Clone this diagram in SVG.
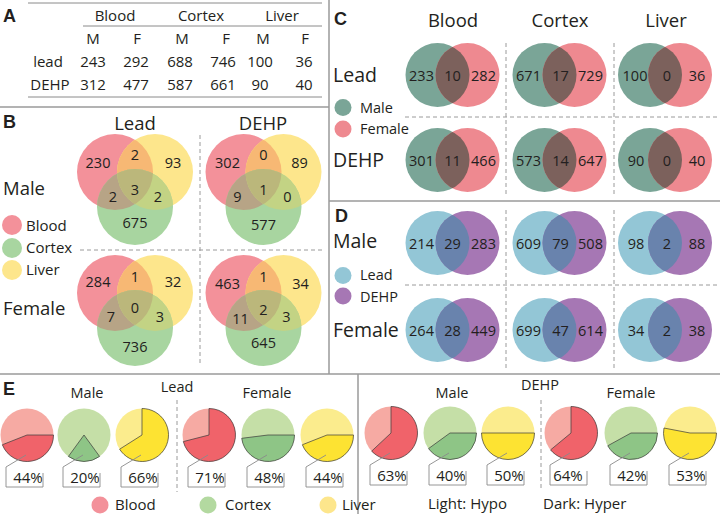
<svg xmlns="http://www.w3.org/2000/svg" xmlns:xlink="http://www.w3.org/1999/xlink" width="720" height="514" viewBox="0 0 720 514">
<style>
text{font-family:"Open Sans","Liberation Sans",sans-serif;fill:#231f20}
.n{font-size:14.5px;text-anchor:middle}
.tb{font-size:15px;text-anchor:middle}
.h{font-size:18.5px}
.h2{font-size:19.5px}
.hm{font-size:18.5px;text-anchor:middle}
.lg{font-size:14.5px}
.lg2{font-size:15px}
.lb{font-family:"Liberation Sans",Arial,sans-serif;font-weight:bold;font-size:18px}
.pc{font-size:15px;text-anchor:middle}
.sep{stroke:#9a9a9a;stroke-width:1.5;fill:none}
.tl{stroke:#8a8a8a;stroke-width:1;fill:none}
.dash{stroke:#9a9a9a;stroke-width:1;stroke-dasharray:4 3;fill:none}
.dk{stroke:#3a3a3a;stroke-width:0.7}
.cl{fill:none;stroke:#8a8a8a;stroke-width:0.9}
.bl{fill:#f6aaa3}.bd{fill:#f0636a}
.cL{fill:#c5dfa7}.cd{fill:#8ec586}
.ll{fill:#fbec8d}.ld{fill:#fde332}
</style>
<defs>
<clipPath id="cR"><circle cx="-20" cy="0" r="38"/></clipPath>
<clipPath id="cY"><circle cx="20" cy="0" r="38"/></clipPath>
<clipPath id="cL"><circle cx="-15" cy="0" r="32"/></clipPath>
<g id="v3">
<circle cx="-20" cy="0" r="38" fill="#f3919a"/>
<circle cx="20" cy="0" r="38" fill="#fde68c"/>
<circle cx="0" cy="35" r="38" fill="#a8d5a0"/>
<g clip-path="url(#cR)"><circle cx="20" cy="0" r="38" fill="#f7b874"/></g>
<g clip-path="url(#cR)"><circle cx="0" cy="35" r="38" fill="#b7a486"/></g>
<g clip-path="url(#cY)"><circle cx="0" cy="35" r="38" fill="#c3d384"/></g>
<g clip-path="url(#cR)"><circle cx="0" cy="35" r="38" fill="#bbb77b" clip-path="url(#cY)"/></g>
</g>
<g id="vC">
<circle cx="-15" cy="0" r="32" fill="#7aa597"/>
<circle cx="15" cy="0" r="32" fill="#ee8990"/>
<g clip-path="url(#cL)"><circle cx="15" cy="0" r="32" fill="#7c615c"/></g>
</g>
<g id="vD">
<circle cx="-15" cy="0" r="32" fill="#93c6d6"/>
<circle cx="15" cy="0" r="32" fill="#a677b4"/>
<g clip-path="url(#cL)"><circle cx="15" cy="0" r="32" fill="#6983ad"/></g>
</g>
</defs>

<g id="frame">
<line class="sep" x1="329" y1="0" x2="329" y2="374"/>
<line class="sep" x1="0" y1="107" x2="329" y2="107"/>
<line class="sep" x1="329" y1="201" x2="720" y2="201"/>
<line class="sep" x1="0" y1="374" x2="720" y2="374"/>
<line class="sep" x1="358" y1="374" x2="358" y2="514"/>
<line class="dash" x1="200" y1="135" x2="200" y2="363"/>
<line class="dash" x1="80" y1="250" x2="322" y2="250"/>
<line class="dash" x1="506" y1="43" x2="506" y2="195"/>
<line class="dash" x1="614" y1="43" x2="614" y2="195"/>
<line class="dash" x1="405" y1="117" x2="720" y2="117"/>
<line class="dash" x1="506" y1="210" x2="506" y2="370"/>
<line class="dash" x1="614" y1="210" x2="614" y2="370"/>
<line class="dash" x1="405" y1="285" x2="720" y2="285"/>
<line class="dash" x1="177" y1="400" x2="177" y2="492"/>
<line class="dash" x1="541" y1="400" x2="541" y2="490"/>
</g>

<g id="panel-a">
<text class="lb" x="3" y="22">A</text>
<line class="tl" x1="28" y1="3" x2="322" y2="3"/>
<line class="tl" x1="83" y1="26" x2="322" y2="26"/>
<line class="tl" x1="28" y1="97" x2="322" y2="97"/>
<text class="tb" x="115" y="21">Blood</text>
<text class="tb" x="201" y="21">Cortex</text>
<text class="tb" x="282" y="21">Liver</text>
<text class="tb" x="93" y="44">M</text><text class="tb" x="137" y="44">F</text>
<text class="tb" x="182" y="44">M</text><text class="tb" x="226" y="44">F</text>
<text class="tb" x="263" y="44">M</text><text class="tb" x="305" y="44">F</text>
<text class="tb" x="48" y="67">lead</text>
<text class="tb" x="93" y="67">243</text><text class="tb" x="136" y="67">292</text>
<text class="tb" x="180" y="67">688</text><text class="tb" x="223" y="67">746</text>
<text class="tb" x="260" y="67">100</text><text class="tb" x="304" y="67">36</text>
<text class="tb" x="50" y="90">DEHP</text>
<text class="tb" x="93" y="90">312</text><text class="tb" x="136" y="90">477</text>
<text class="tb" x="180" y="90">587</text><text class="tb" x="223" y="90">661</text>
<text class="tb" x="260" y="90">90</text><text class="tb" x="304" y="90">40</text>
</g>

<g id="panel-b-labels">
<text class="lb" x="3" y="128">B</text>
<text class="hm" x="135" y="130">Lead</text>
<text class="hm" x="263" y="130">DEHP</text>
<text class="h" x="3" y="195">Male</text>
<text class="h" x="3" y="315">Female</text>
<circle cx="12" cy="225" r="10" fill="#f3919a"/>
<circle cx="12" cy="248" r="10" fill="#a8d5a0"/>
<circle cx="12" cy="270" r="10" fill="#fde68c"/>
<text class="lg2" x="26" y="231">Blood</text>
<text class="lg2" x="26" y="253">Cortex</text>
<text class="lg2" x="26" y="275">Liver</text>
</g>

<g id="venn-b-lead-male" transform="translate(135,172)">
<use xlink:href="#v3" href="#v3"/>
<text class="n" x="-37" y="-4">230</text><text class="n" x="0" y="-12">2</text><text class="n" x="38" y="-4">93</text>
<text class="n" x="-22" y="30">2</text><text class="n" x="0" y="23">3</text><text class="n" x="23" y="30">2</text>
<text class="n" x="0" y="56">675</text>
</g>
<g id="venn-b-dehp-male" transform="translate(263.5,172)">
<use xlink:href="#v3" href="#v3"/>
<text class="n" x="-36" y="-4">302</text><text class="n" x="0" y="-12">0</text><text class="n" x="36" y="-4">89</text>
<text class="n" x="-26" y="30">9</text><text class="n" x="0" y="23">1</text><text class="n" x="24" y="30">0</text>
<text class="n" x="0" y="58">577</text>
</g>
<g id="venn-b-lead-female" transform="translate(135,293)">
<use xlink:href="#v3" href="#v3"/>
<text class="n" x="-37" y="-6">284</text><text class="n" x="0" y="-11">1</text><text class="n" x="38" y="-6">32</text>
<text class="n" x="-24" y="29">7</text><text class="n" x="0" y="20">0</text><text class="n" x="25" y="29">3</text>
<text class="n" x="0" y="59">736</text>
</g>
<g id="venn-b-dehp-female" transform="translate(263.5,293)">
<use xlink:href="#v3" href="#v3"/>
<text class="n" x="-36" y="-4">463</text><text class="n" x="0" y="-11">1</text><text class="n" x="37" y="-4">34</text>
<text class="n" x="-23" y="31">11</text><text class="n" x="0" y="22">2</text><text class="n" x="23" y="29">3</text>
<text class="n" x="0" y="55">645</text>
</g>

<g id="panel-c-labels">
<text class="lb" x="334" y="25">C</text>
<text class="hm" x="453" y="27">Blood</text>
<text class="hm" x="560" y="27">Cortex</text>
<text class="hm" x="666" y="27">Liver</text>
<text class="h2" x="333" y="82">Lead</text>
<text class="h2" x="333" y="167">DEHP</text>
<circle cx="343" cy="107.5" r="8.5" fill="#7aa597"/>
<circle cx="343" cy="129" r="8.5" fill="#ee8990"/>
<text class="lg" x="360" y="113">Male</text>
<text class="lg" x="360" y="134">Female</text>
</g>
<g id="venn-c-lead-blood" transform="translate(452.5,75)"><use xlink:href="#vC" href="#vC"/>
<text class="n" x="-31" y="5.5">233</text><text class="n" x="0" y="5.5">10</text><text class="n" x="31" y="5.5">282</text></g>
<g id="venn-c-lead-cortex" transform="translate(559.5,75)"><use xlink:href="#vC" href="#vC"/>
<text class="n" x="-31" y="5.5">671</text><text class="n" x="1" y="5.5">17</text><text class="n" x="31" y="5.5">729</text></g>
<g id="venn-c-lead-liver" transform="translate(665,75)"><use xlink:href="#vC" href="#vC"/>
<text class="n" x="-30" y="5.5">100</text><text class="n" x="2" y="5.5">0</text><text class="n" x="32" y="5.5">36</text></g>
<g id="venn-c-dehp-blood" transform="translate(452.5,160)"><use xlink:href="#vC" href="#vC"/>
<text class="n" x="-31" y="6">301</text><text class="n" x="0" y="6">11</text><text class="n" x="31" y="6">466</text></g>
<g id="venn-c-dehp-cortex" transform="translate(559.5,160)"><use xlink:href="#vC" href="#vC"/>
<text class="n" x="-31" y="6">573</text><text class="n" x="1" y="6">14</text><text class="n" x="31" y="6">647</text></g>
<g id="venn-c-dehp-liver" transform="translate(665,160)"><use xlink:href="#vC" href="#vC"/>
<text class="n" x="-29" y="6">90</text><text class="n" x="2" y="6">0</text><text class="n" x="32" y="6">40</text></g>

<g id="panel-d-labels">
<text class="lb" x="335" y="222">D</text>
<text class="h2" x="333" y="248">Male</text>
<text class="h2" x="333" y="337">Female</text>
<circle cx="343" cy="275.5" r="8.5" fill="#93c6d6"/>
<circle cx="343" cy="296" r="8.5" fill="#a677b4"/>
<text class="lg" x="360" y="280">Lead</text>
<text class="lg" x="360" y="302">DEHP</text>
</g>
<g id="venn-d-male-blood" transform="translate(452.5,243)"><use xlink:href="#vD" href="#vD"/>
<text class="n" x="-31" y="5.5">214</text><text class="n" x="0" y="5.5">29</text><text class="n" x="31" y="5.5">283</text></g>
<g id="venn-d-male-cortex" transform="translate(559.5,243)"><use xlink:href="#vD" href="#vD"/>
<text class="n" x="-31" y="5.5">609</text><text class="n" x="1" y="5.5">79</text><text class="n" x="31" y="5.5">508</text></g>
<g id="venn-d-male-liver" transform="translate(665,243)"><use xlink:href="#vD" href="#vD"/>
<text class="n" x="-29" y="5.5">98</text><text class="n" x="2" y="5.5">2</text><text class="n" x="32" y="5.5">88</text></g>
<g id="venn-d-female-blood" transform="translate(452.5,330)"><use xlink:href="#vD" href="#vD"/>
<text class="n" x="-31" y="6">264</text><text class="n" x="0" y="6">28</text><text class="n" x="31" y="6">449</text></g>
<g id="venn-d-female-cortex" transform="translate(559.5,330)"><use xlink:href="#vD" href="#vD"/>
<text class="n" x="-31" y="6">699</text><text class="n" x="1" y="6">47</text><text class="n" x="31" y="6">614</text></g>
<g id="venn-d-female-liver" transform="translate(665,330)"><use xlink:href="#vD" href="#vD"/>
<text class="n" x="-29" y="6">34</text><text class="n" x="2" y="6">2</text><text class="n" x="32" y="6">38</text></g>

<g id="panel-e-labels">
<text class="lb" x="3" y="395">E</text>
<text class="lg" x="87" y="398" text-anchor="middle">Male</text>
<text class="lg" x="177" y="392" text-anchor="middle">Lead</text>
<text class="lg" x="267" y="398" text-anchor="middle">Female</text>
<text class="lg" x="452" y="398" text-anchor="middle">Male</text>
<text class="lg" x="540" y="390" text-anchor="middle">DEHP</text>
<text class="lg" x="631" y="398" text-anchor="middle">Female</text>
</g>

<g id="pie-lead-male-blood" transform="translate(27,435)"><circle r="26.5" class="bl"/><path class="bd dk" d="M0,0 L26.5,0 A26.5,26.5 0 0 1 -24.64,9.75 Z"/><text class="pc" x="1" y="48">44%</text></g>
<g id="pie-lead-male-cortex" transform="translate(84,435)"><circle r="26.5" class="cL"/><path class="cd dk" d="M0,0 L15.58,21.44 A26.5,26.5 0 0 1 -15.58,21.44 Z"/><text class="pc" x="1" y="48">20%</text></g>
<g id="pie-lead-male-liver" transform="translate(142,435)"><circle r="26.5" class="ll"/><path class="ld dk" d="M0,0 L0,-26.5 A26.5,26.5 0 1 1 -22.37,14.2 Z"/><text class="pc" x="1" y="48">66%</text></g>
<g id="pie-lead-female-blood" transform="translate(209,435)"><circle r="26.5" class="bl"/><path class="bd dk" d="M0,0 L0,-26.5 A26.5,26.5 0 1 1 -25.67,6.59 Z"/><text class="pc" x="1" y="48">71%</text></g>
<g id="pie-lead-female-cortex" transform="translate(268,435)"><circle r="26.5" class="cL"/><path class="cd dk" d="M0,0 L26.5,0 A26.5,26.5 0 0 1 -26.29,3.32 Z"/><text class="pc" x="1" y="48">48%</text></g>
<g id="pie-lead-female-liver" transform="translate(327,435)"><circle r="26.5" class="ll"/><path class="ld dk" d="M0,0 L26.5,0 A26.5,26.5 0 0 1 -24.64,9.75 Z"/><text class="pc" x="1" y="48">44%</text></g>
<g id="pie-dehp-male-blood" transform="translate(391,433)"><circle r="26.5" class="bl"/><path class="bd dk" d="M0,0 L0,-26.5 A26.5,26.5 0 1 1 -19.32,18.14 Z"/><text class="pc" x="1" y="48">63%</text></g>
<g id="pie-dehp-male-cortex" transform="translate(450,433)"><circle r="26.5" class="cL"/><path class="cd dk" d="M0,0 L26.5,0 A26.5,26.5 0 0 1 -21.44,15.58 Z"/><text class="pc" x="1" y="48">40%</text></g>
<g id="pie-dehp-male-liver" transform="translate(508,433)"><circle r="26.5" class="ll"/><path class="ld dk" d="M0,0 L26.5,0 A26.5,26.5 0 0 1 -26.5,0 Z"/><text class="pc" x="1" y="48">50%</text></g>
<g id="pie-dehp-female-blood" transform="translate(571,433)"><circle r="26.5" class="bl"/><path class="bd dk" d="M0,0 L0,-26.5 A26.5,26.5 0 1 1 -20.42,16.89 Z"/><text class="pc" x="-3" y="48">64%</text></g>
<g id="pie-dehp-female-cortex" transform="translate(631,433)"><circle r="26.5" class="cL"/><path class="cd dk" d="M0,0 L26.5,0 A26.5,26.5 0 0 1 -23.22,12.77 Z"/><text class="pc" x="1" y="48">42%</text></g>
<g id="pie-dehp-female-liver" transform="translate(690,433)"><circle r="26.5" class="ll"/><path class="ld dk" d="M0,0 L26.5,0 A26.5,26.5 0 1 1 -26.03,-4.97 Z"/><text class="pc" x="1" y="48">53%</text></g>

<g id="connectors">
<polyline class="cl" points="26,455 6,467 6,487 43,487 43,473"/>
<polyline class="cl" points="83,455 63,467 63,487 100,487 100,473"/>
<polyline class="cl" points="141,455 121,467 121,487 158,487 158,473"/>
<polyline class="cl" points="208,455 188,467 188,487 225,487 225,473"/>
<polyline class="cl" points="267,455 247,467 247,487 284,487 284,473"/>
<polyline class="cl" points="326,455 306,467 306,487 343,487 343,473"/>
<polyline class="cl" points="390,453 370,465 370,485 407,485 407,471"/>
<polyline class="cl" points="449,453 429,465 429,485 466,485 466,471"/>
<polyline class="cl" points="507,453 487,465 487,485 524,485 524,471"/>
<polyline class="cl" points="570,453 550,465 550,485 587,485 587,471"/>
<polyline class="cl" points="630,453 610,465 610,485 647,485 647,471"/>
<polyline class="cl" points="689,453 669,465 669,485 706,485 706,471"/>
</g>

<g id="legend-e">
<circle cx="100" cy="505" r="8.5" fill="#f3919a"/>
<text class="lg2" x="115" y="510">Blood</text>
<circle cx="208" cy="505" r="8.5" fill="#b3d9a0"/>
<text class="lg2" x="225" y="510">Cortex</text>
<circle cx="328" cy="505" r="8.5" fill="#fde68c"/>
<text class="lg2" x="342" y="510">Liver</text>
<text class="lg2" x="428" y="509">Light: Hypo</text>
<text class="lg2" x="543" y="509">Dark: Hyper</text>
</g>
</svg>
